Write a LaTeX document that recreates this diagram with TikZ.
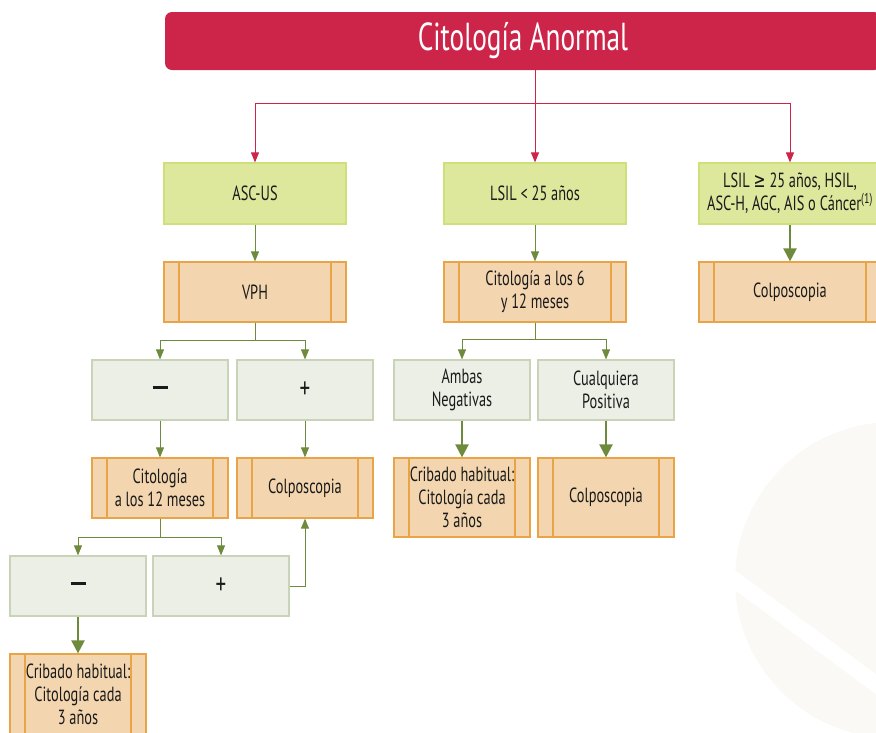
\documentclass[tikz,border=0pt]{standalone}
\usepackage{fontspec}
\setmainfont[FakeStretch=0.7]{PT Sans}
\newfontfamily\symbolfont[FakeStretch=0.7]{DejaVu Sans}
\usetikzlibrary{arrows.meta}
\definecolor{crimson}{RGB}{204, 37, 73}
\definecolor{limefill}{RGB}{221, 232, 156}
\definecolor{limeedge}{RGB}{207, 223, 122}
\definecolor{peach}{RGB}{243, 214, 175}
\definecolor{amber}{RGB}{233, 164, 71}
\definecolor{sage}{RGB}{236, 239, 230}
\definecolor{sageedge}{RGB}{200, 211, 184}
\definecolor{moss}{RGB}{110, 139, 61}
\definecolor{ink}{RGB}{26, 26, 26}
\definecolor{watermark}{RGB}{251, 249, 245}
\tikzset{box/.style={rectangle,inner sep=2pt,align=center,text=ink,font=\fontsize{20.5}{23}\selectfont}}
\tikzset{titlebox/.style={rectangle,rounded corners=7pt,fill=crimson,text=white,minimum width=716pt,minimum height=58pt,font=\fontsize{39}{42}\selectfont}}
\tikzset{choicebox/.style={box,fill=limefill,draw=limeedge,line width=1.2pt,minimum width=182pt,minimum height=61pt}}
\tikzset{resultbox/.style={box,fill=sage,draw=sageedge,line width=1.2pt,minimum width=136pt,minimum height=60pt}}
\tikzset{testbox/.style={box,fill=peach,draw=amber,line width=1.2pt,minimum height=60pt,
	path picture={\draw[amber,line width=1.2pt] ([xshift=15pt]path picture bounding box.north west) -- ([xshift=15pt]path picture bounding box.south west);
	\draw[amber,line width=1.2pt] ([xshift=-15pt]path picture bounding box.north east) -- ([xshift=-15pt]path picture bounding box.south east);}}}
\tikzset{redlink/.style={crimson,line width=1pt,-{Triangle[width=8pt,length=10pt]}}}
\tikzset{link/.style={moss,line width=1pt,-{Triangle[width=8pt,length=10pt]}}}
\tikzset{boldlink/.style={moss,line width=2.2pt,-{Triangle[width=13pt,length=13pt]}}}
\newcommand{\signminus}{\rule[6pt]{15pt}{3pt}}
\newcommand{\signplus}{\fontsize{30}{30}\selectfont +}

\begin{document}
\begin{tikzpicture}[x=1pt,y=-1pt]

	\useasboundingbox (0,0) rectangle (876,732);
	\clip (0,0) rectangle (876,732);
	\fill[watermark] (893,580) circle (158pt);
	\fill[white] (720,559) -- (900,692) -- (900,712) -- (720,579) -- cycle;

	\node[titlebox] (title) at (523,41) {Citología Anormal};

	\node[choicebox] (ascus) at (255,193.5) {ASC-US};
	\node[choicebox] (lsil) at (535,193.5) {LSIL < 25 años};
	\node[choicebox] (high) at (790,193.5) {LSIL {\symbolfont ≥} 25 años, HSIL,\\ASC-H, AGC, AIS o Cáncer\textsuperscript{(1)}};

	\node[testbox,minimum width=182pt] (vph) at (255,292) {VPH};
	\node[testbox,minimum width=182pt] (cito612) at (535,292) {Citología a los 6\\y 12 meses};
	\node[testbox,minimum width=182pt] (colpoa) at (790,292) {Colposcopia};

	\node[resultbox] (vphneg) at (160,390) {\signminus};
	\node[resultbox] (vphpos) at (305,390) {\signplus};
	\node[resultbox] (ambas) at (462,390) {Ambas\\Negativas};
	\node[resultbox] (cualq) at (606,390) {Cualquiera\\Positiva};

	\node[testbox,minimum width=136pt] (cito12) at (160,488) {Citología\\a los 12 meses};
	\node[testbox,minimum width=136pt] (colpob) at (305,488) {Colposcopia};
	\node[testbox,minimum width=136pt,minimum height=79pt] (cribb) at (462,497.5) {Cribado habitual:\\Citología cada\\3 años};
	\node[testbox,minimum width=136pt,minimum height=79pt] (colpoc) at (606,497.5) {Colposcopia};

	\node[resultbox] (citoneg) at (78,586) {\signminus};
	\node[resultbox] (citopos) at (221,586) {\signplus};
	\node[testbox,minimum width=136pt,minimum height=80pt] (criba) at (78,694) {Cribado habitual:\\Citología cada\\3 años};

	\draw[redlink] (title.south -| lsil) -- ++(0,33) -| (ascus.north);
	\draw[redlink] (title.south -| lsil) -- (lsil.north);
	\draw[redlink] (title.south -| lsil) -- ++(0,33) -| (high.north);

	\draw[link] (ascus) -- (vph);
	\draw[link] (lsil) -- (cito612);
	\draw[boldlink] (high) -- (colpoa);

	\draw[link] (vph.south) -- ++(0,18) -| (vphneg.north);
	\draw[link] (vph.south) -- ++(0,18) -| (vphpos.north);
	\draw[link] (cito612.south) -- ++(0,17) -| (ambas.north);
	\draw[link] (cito612.south) -- ++(0,17) -| (cualq.north);

	\draw[link] (vphneg) -- (cito12);
	\draw[link] (vphpos) -- (colpob);
	\draw[boldlink] (ambas.south) -- (cribb.north);
	\draw[boldlink] (cualq.south) -- (colpoc.north);

	\draw[link] (cito12.south) -- ++(0,19) -| (citoneg.north);
	\draw[link] (cito12.south) -- ++(0,19) -| (citopos.north);
	\draw[boldlink] (citoneg.south) -- (criba.north);
	\draw[link] (citopos.east) -| (colpob.south);

\end{tikzpicture}
\end{document}
